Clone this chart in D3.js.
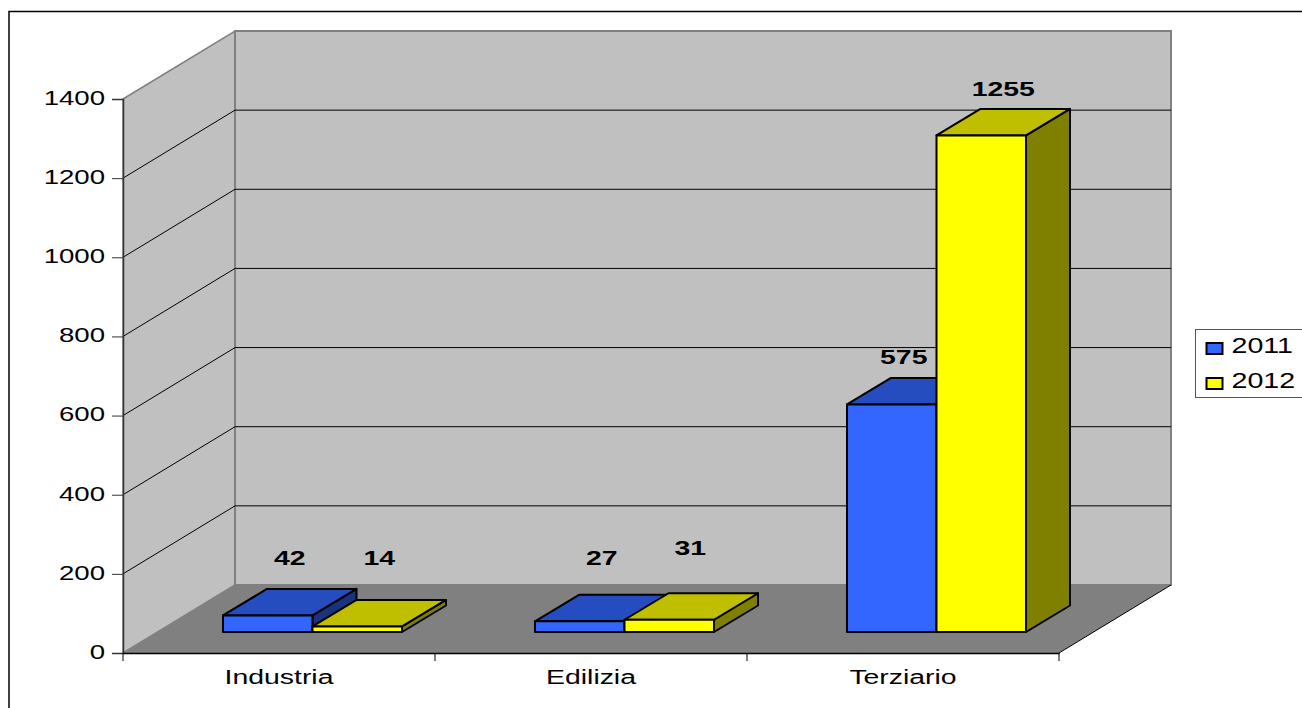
<!DOCTYPE html>
<html>
<head>
<meta charset="utf-8">
<script src="https://cdn.jsdelivr.net/npm/d3@7"></script>
<style>
    html, body { margin: 0; padding: 0; background: #fff; overflow: hidden; }
    svg { display: block; }
    text { font-family: "Liberation Sans", Arial, sans-serif; fill: #000; }
</style>
</head>
<body>
<div id="chart"></div>
<script>
const categories = ["Industria", "Edilizia", "Terziario"];
const seriesNames = ["2011", "2012"];
const values2011 = [42, 27, 575];
const values2012 = [14, 31, 1255];
const yTicks = [0, 200, 400, 600, 800, 1000, 1200, 1400];

const width = 1302, height = 708;
const stretch = 1.38;      // the original text is wide, arial squashed sideways
const fontSize = 20;

// plot box
const plotLeft = 123, plotRight = 1059, plotTop = 99, plotBottom = 653;
const backDx = 112, backDy = -68;   // walls
const barDx = 44, barDy = -26.5;    // bar depth
const barLift = 21;                 // bars stand a bit behind the front edge

const x0 = d3.scaleBand().domain(categories).range([plotLeft, plotRight]);
const x1 = d3.scaleBand().domain(seriesNames).range([100, 279]);
const y = d3.scaleLinear().domain([0, 1400]).range([plotBottom, plotTop]);

const colors = {
    "2011": { front: "#3366ff", top: "#264dbf", side: "#1a337f" },
    "2012": { front: "#ffff00", top: "#bfbf00", side: "#808000" }
};

// how far each value label floats above its bar, and the one sideways nudge
const labelLift = { "2011": [57, 63, 47], "2012": [68, 72, 46] };
const labelNudge = { "2011": [0, 0, -10], "2012": [0, -1, 0] };

const svg = d3.select("#chart").append("svg")
    .attr("width", width)
    .attr("height", height);

const poly = (pts) => pts.map(p => p.join(",")).join(" ");

// chart frame, runs off the page on the right and at the bottom
svg.append("rect")
    .attr("x", 9).attr("y", 11.5)
    .attr("width", 1320).attr("height", 720)
    .attr("fill", "#fff").attr("stroke", "#000").attr("stroke-width", 1.5);

// walls and floor
svg.append("polygon")
    .attr("points", poly([[plotLeft, plotTop], [plotLeft + backDx, plotTop + backDy], [plotLeft + backDx, plotBottom + backDy], [plotLeft, plotBottom]]))
    .attr("fill", "#c0c0c0").attr("stroke", "#808080").attr("stroke-width", 1.5);
svg.append("rect")
    .attr("x", plotLeft + backDx).attr("y", plotTop + backDy)
    .attr("width", plotRight - plotLeft).attr("height", plotBottom - plotTop)
    .attr("fill", "#c0c0c0").attr("stroke", "#808080").attr("stroke-width", 2);
svg.append("polygon")
    .attr("points", poly([[plotLeft, plotBottom], [plotRight, plotBottom], [plotRight + backDx, plotBottom + backDy], [plotLeft + backDx, plotBottom + backDy]]))
    .attr("fill", "#808080");
svg.append("line")
    .attr("x1", plotRight).attr("y1", plotBottom)
    .attr("x2", plotRight + backDx).attr("y2", plotBottom + backDy)
    .attr("stroke", "#000");

// gridlines on both walls
const grid = svg.append("g").attr("fill", "none").attr("stroke", "#000");
yTicks.filter(d => d > 0 && d < 1400).forEach(d => {
    grid.append("path")
        .attr("d", `M${plotLeft},${y(d)}L${plotLeft + backDx},${y(d) + backDy}H${plotRight + backDx}`);
});

// axes
const yAxis = svg.append("g")
    .attr("transform", `translate(${plotLeft},0)`)
    .call(d3.axisLeft(y).tickValues(yTicks).tickFormat(d3.format("d")).tickSizeOuter(0).tickSize(11).tickPadding(7));
yAxis.select(".domain").attr("stroke", "#333").attr("stroke-width", 1.5);
yAxis.selectAll("line").attr("stroke", "#333");
yAxis.selectAll("text")
    .attr("font-size", fontSize)
    .attr("x", -18 / stretch)
    .attr("y", -1)
    .attr("transform", `scale(${stretch},1)`)
    .style("font-family", '"Liberation Sans", Arial, sans-serif');

const xAxis = svg.append("g")
    .attr("transform", `translate(0,${plotBottom})`)
    .call(d3.axisBottom(x0).tickValues([]).tickSizeOuter(0));
xAxis.select(".domain").attr("stroke", "#000").attr("stroke-width", 1.5);
xAxis.selectAll(".edge")
    .data(d3.range(categories.length + 1))
    .join("line")
    .attr("class", "edge")
    .attr("x1", i => plotLeft + i * x0.step())
    .attr("x2", i => plotLeft + i * x0.step())
    .attr("y1", 0).attr("y2", 8)
    .attr("stroke", "#000");
xAxis.selectAll(".cat")
    .data(categories)
    .join("text")
    .attr("class", "cat")
    .attr("text-anchor", "middle")
    .attr("font-size", fontSize)
    .attr("transform", d => `translate(${x0(d) + x0.bandwidth() / 2},31) scale(1.42,1)`)
    .text(d => d);

// bars, painted left to right so later ones cover earlier sides
const baseY = y(0) - barLift;
const barW = x1.bandwidth();
const rows = categories.flatMap((c, i) => [
    { cat: c, i: i, name: "2011", value: values2011[i] },
    { cat: c, i: i, name: "2012", value: values2012[i] }
]);

const bars = svg.append("g").attr("stroke", "#000").attr("stroke-width", 2).attr("stroke-linejoin", "round");
rows.forEach(d => {
    const xa = x0(d.cat) + x1(d.name);
    const xb = xa + barW;
    const ya = baseY - (y(0) - y(d.value));
    bars.append("polygon")
        .attr("points", poly([[xb, ya], [xb + barDx, ya + barDy], [xb + barDx, baseY + barDy], [xb, baseY]]))
        .attr("fill", colors[d.name].side);
    bars.append("polygon")
        .attr("points", poly([[xa, ya], [xa + barDx, ya + barDy], [xb + barDx, ya + barDy], [xb, ya]]))
        .attr("fill", colors[d.name].top);
    bars.append("rect")
        .attr("x", xa).attr("y", ya)
        .attr("width", barW).attr("height", baseY - ya)
        .attr("fill", colors[d.name].front);
});

// value labels
svg.append("g").selectAll("text")
    .data(rows)
    .join("text")
    .attr("text-anchor", "middle")
    .attr("font-weight", "bold")
    .attr("font-size", fontSize)
    .attr("transform", d => {
        const cx = x0(d.cat) + x1(d.name) + barW / 2 + barDx / 2 + labelNudge[d.name][d.i];
        const cy = baseY - (y(0) - y(d.value)) - labelLift[d.name][d.i] + 7;
        return `translate(${cx},${cy}) scale(1.42,1)`;
    })
    .text(d => d.value);

// legend
const legend = svg.append("g");
legend.append("rect")
    .attr("x", 1195.5).attr("y", 329.5)
    .attr("width", 120).attr("height", 68)
    .attr("fill", "#fff").attr("stroke", "#555");
const legendRow = legend.selectAll("g")
    .data(seriesNames)
    .join("g")
    .attr("transform", (d, i) => `translate(1206.5,${343 + i * 35})`);
legendRow.append("rect")
    .attr("width", 16).attr("height", 11)
    .attr("fill", d => colors[d].front)
    .attr("stroke", "#000").attr("stroke-width", 2);
legendRow.append("text")
    .attr("font-size", 22)
    .attr("transform", "translate(25,10) scale(1.3,1)")
    .text(d => d);
</script>
</body>
</html>
